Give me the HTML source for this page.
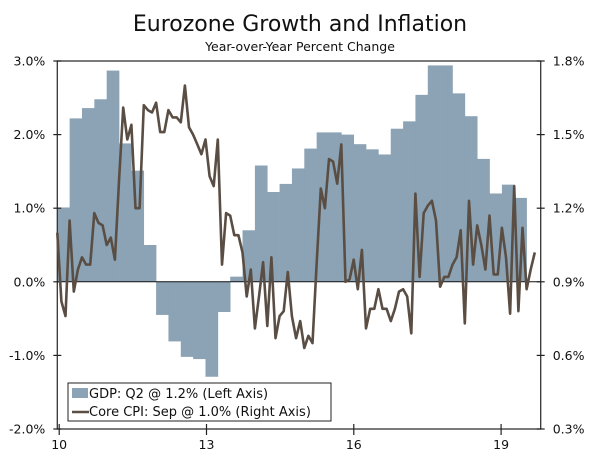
<!DOCTYPE html>
<html><head><meta charset="utf-8"><style>
body{margin:0;background:#fff;}
svg text{font-family:"DejaVu Sans","Liberation Sans",sans-serif;fill:#111;}
</style></head><body>
<svg id="chart" width="600" height="460" viewBox="0 0 600 460">
<text x="300" y="31" text-anchor="middle" font-size="22">Eurozone Growth and Inflation</text>
<text x="300" y="51" text-anchor="middle" font-size="12.5">Year-over-Year Percent Change</text>
<g id="bars"></g>
<g id="axes"></g>
<path id="cpi" fill="none" stroke="#5a4e44" stroke-width="2.6" stroke-linejoin="round"></path>
<g>
<rect x="68" y="383" width="263" height="38" fill="#fff" stroke="#222" stroke-width="1"/>
<rect x="72" y="388" width="16" height="10" fill="#8ba3b4"/>
<text x="89" y="398" font-size="13">GDP: Q2 @ 1.2% (Left Axis)</text>
<line x1="72" y1="412" x2="89" y2="412" stroke="#5a4e44" stroke-width="2.6"/>
<text x="89" y="416" font-size="13">Core CPI: Sep @ 1.0% (Right Axis)</text>
</g>
</svg>
<script>
const gdpValues=[1.01,2.22,2.36,2.48,2.87,1.88,1.51,0.50,-0.45,-0.81,-1.02,-1.05,-1.29,-0.41,0.07,0.70,1.58,1.22,1.33,1.54,1.81,2.03,2.03,2.00,1.87,1.80,1.73,2.08,2.18,2.54,2.94,2.94,2.56,2.25,1.67,1.20,1.32,1.14];
const cpiValues=[1.10,0.82,0.76,1.15,0.86,0.95,1.00,0.97,0.97,1.18,1.14,1.13,1.05,1.08,0.99,1.31,1.61,1.48,1.54,1.20,1.20,1.62,1.60,1.59,1.63,1.51,1.51,1.60,1.57,1.57,1.55,1.70,1.53,1.50,1.46,1.42,1.48,1.33,1.29,1.48,0.97,1.18,1.17,1.09,1.09,1.02,0.84,0.95,0.71,0.84,0.98,0.72,1.00,0.67,0.76,0.78,0.94,0.76,0.67,0.74,0.63,0.68,0.65,0.97,1.28,1.20,1.40,1.39,1.30,1.46,0.90,0.91,0.99,0.87,1.03,0.71,0.79,0.79,0.87,0.79,0.79,0.74,0.79,0.86,0.87,0.84,0.69,1.26,0.92,1.18,1.21,1.23,1.15,0.88,0.92,0.92,0.97,1.00,1.11,0.73,1.23,0.97,1.13,1.05,0.95,1.17,0.93,0.93,1.12,1.00,0.77,1.29,0.78,1.12,0.87,0.95,1.02];
const leftTicks=[3,2,1,0,-1,-2];
const leftTickLabels=["3.0%","2.0%","1.0%","0.0%","-1.0%","-2.0%"];
const rightTicks=[1.8,1.5,1.2,0.9,0.6,0.3];
const rightTickLabels=["1.8%","1.5%","1.2%","0.9%","0.6%","0.3%"];
const xTicks=[10,13,16,19];
const xTickLabels=["10","13","16","19"];

const L=57.3,R=540.7,T=61,B=429;
const yL=v=>B-(v+2)/5*(B-T);
const yR=v=>B-(v-0.3)/1.5*(B-T);
const qW=12.35;
const xQ=i=>L+i*qW;
const xM=m=>L+m*(qW/3);
const xYear=y=>59.2+49.1*(y-10);
const NS="http://www.w3.org/2000/svg";
function mk(tag,attrs,parent){const e=document.createElementNS(NS,tag);for(const k in attrs)e.setAttribute(k,attrs[k]);parent.appendChild(e);return e;}
const bars=document.getElementById('bars');
gdpValues.forEach((v,i)=>{
  const y0=yL(0),y1=yL(v);
  const r=mk('rect',{x:xQ(i),y:Math.min(y0,y1),width:qW+0.3,height:Math.abs(y1-y0),fill:'#8ba3b4'},bars);
  
  
});
const ax=document.getElementById('axes');
const fr=mk('rect',{x:L,y:T,width:R-L,height:B-T,fill:'none',stroke:'#333','stroke-width':1.3},ax);


const zl=mk('line',{x1:L,x2:R,y1:yL(0),y2:yL(0),stroke:'#111','stroke-width':1},ax);


leftTicks.forEach((v,i)=>{
  const y=yL(v);
  const t=mk('line',{x1:L-4,x2:L+4,y1:y,y2:y,stroke:'#222','stroke-width':1.2},ax);
  
  
  const tx=mk('text',{x:L-12,y:y+4.5,'text-anchor':'end','font-size':12.5},ax);
  tx.textContent=leftTickLabels[i];
  
  
});
rightTicks.forEach((v,i)=>{
  const y=yR(v);
  const t=mk('line',{x1:R-4,x2:R+4,y1:y,y2:y,stroke:'#222','stroke-width':1.2},ax);
  
  
  const tx=mk('text',{x:R+12,y:y+4.5,'font-size':12.5},ax);
  tx.textContent=rightTickLabels[i];
  
  
});
xTicks.forEach((v,i)=>{
  const x=xYear(v);
  const t=mk('line',{x1:x,x2:x,y1:B-5,y2:B+6,stroke:'#222','stroke-width':1.2},ax);
  
  
  const tx=mk('text',{x:x,y:B+20,'text-anchor':'middle','font-size':12.5},ax);
  tx.textContent=xTickLabels[i];
  
  
});
document.getElementById('cpi').setAttribute('d',cpiValues.map((v,m)=>(m?'L':'M')+xM(m).toFixed(1)+','+yR(v).toFixed(1)).join(''));
</script>
</body></html>
